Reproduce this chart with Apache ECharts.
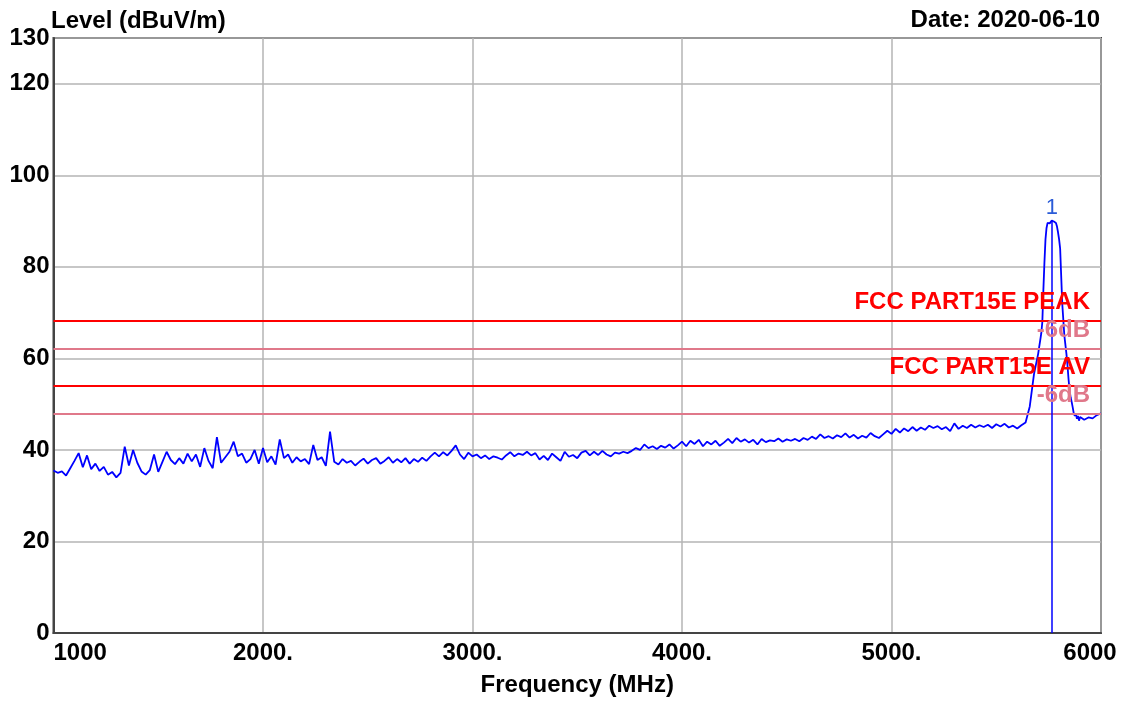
<!DOCTYPE html>
<html>
<head>
<meta charset="utf-8">
<script src="https://cdn.jsdelivr.net/npm/echarts@6/dist/echarts.min.js"></script>
<style>
  html, body { margin: 0; padding: 0; background: #fff; }
  #chart { width: 1129px; height: 702px; }
</style>
</head>
<body>
<div id="chart"></div>
<script>
// sweep 1000 - 5700 MHz, 20 MHz per point
const sweepStart = 1000
const sweepStep = 20
const sweepLevels = [
  35.5, 35.0, 35.3, 34.4, 36.0, 37.6, 39.3, 36.2, 38.8, 35.8,
  37.0, 35.4, 36.3, 34.6, 35.2, 34.0, 35.0, 40.7, 36.6, 40.0,
  37.2, 35.3, 34.6, 35.6, 39.0, 35.2, 37.4, 39.6, 37.8, 36.9,
  38.2, 37.0, 39.2, 37.5, 39.0, 36.3, 40.4, 37.6, 36.0, 42.8,
  37.2, 38.4, 39.6, 41.8, 38.6, 39.2, 37.2, 38.0, 40.0, 37.0,
  40.4, 37.3, 38.6, 36.8, 42.3, 38.2, 39.0, 37.2, 38.4, 37.5,
  38.0, 36.9, 41.1, 37.8, 38.4, 36.5, 44.0, 37.4, 36.8, 38.0,
  37.2, 37.6, 36.6, 37.4, 38.1, 37.0, 37.8, 38.2, 37.0, 37.6,
  38.4, 37.2, 38.0, 37.3, 38.2, 37.0, 38.0, 37.4, 38.3, 37.6,
  38.6, 39.4, 38.6, 39.5, 38.8, 39.8, 41.0, 39.0, 38.0, 39.4,
  38.6, 39.0, 38.2, 38.8, 38.0, 38.6, 38.3, 37.9, 38.8, 39.5,
  38.6, 39.2, 38.9, 39.6, 38.8, 39.3, 37.9, 38.7, 37.8, 39.2,
  38.4, 37.6, 39.6, 38.5, 38.9, 38.2, 39.4, 39.8, 38.8, 39.6,
  38.9, 39.8, 39.0, 38.6, 39.4, 39.2, 39.6, 39.3, 39.8, 40.4,
  40.0, 41.2, 40.4, 40.8, 40.2, 40.9, 40.5, 41.2, 40.3, 41.0,
  41.8, 40.8, 42.0, 41.3, 42.2, 40.8, 41.8, 41.2, 42.0, 40.9,
  41.6, 42.4, 41.5, 42.6, 41.8, 42.3, 41.6, 42.2, 41.2, 42.4,
  41.7, 42.1, 41.9, 42.5, 41.8, 42.3, 42.0, 42.4, 41.9, 42.6,
  42.2, 42.9, 42.4, 43.4, 42.6, 43.0, 42.5, 43.2, 42.8, 43.6,
  42.7, 43.3, 42.5, 43.1, 42.7, 43.7, 43.0, 42.6, 43.4, 44.2,
  43.5, 44.6, 43.8, 44.7, 44.1, 45.0, 44.2, 44.9, 44.4, 45.3,
  44.8, 45.2, 44.5, 45.0, 44.1, 45.8, 44.6, 45.3, 44.8, 45.5,
  44.9, 45.4, 45.0, 45.5, 44.8, 45.6, 45.1, 45.7, 44.9, 45.3,
  44.7, 45.4, 46.0, 49.5, 56.5, 61.0
]

// emission band, finer points
const bandFreqs = [
  5705, 5710, 5715, 5720, 5725, 5730, 5735, 5740, 5745, 5750,
  5755, 5760, 5765, 5770, 5775, 5780, 5785, 5790, 5795, 5800,
  5805, 5810, 5815, 5820, 5825, 5830, 5835, 5840, 5845, 5850,
  5855, 5860, 5865, 5870, 5875, 5880, 5885, 5890, 5895, 5900,
  5920, 5940, 5960, 5980, 6000
]
const bandLevels = [
  62.5, 64.0, 65.5, 68.0, 75.0, 81.0, 86.0, 88.5, 89.6, 89.7,
  89.5, 89.9, 90.1, 90.1, 89.9, 90.0, 89.6, 88.8, 87.5, 86.0,
  84.0, 78.0, 72.0, 68.5, 65.0, 63.0, 61.0, 58.5, 55.5, 53.0,
  51.5, 50.5, 49.3, 48.0, 47.4, 48.0, 46.8, 47.4, 46.4, 47.2,
  46.6, 47.1, 46.9, 47.6, 48.0
]

const markerFreq = 5765
const markerLevel = 90.1

const limitNames = ['FCC PART15E PEAK', '-6dB', 'FCC PART15E AV', '-6dB']
const limitLevels = [68.2, 62.2, 54, 48]
const limitColors = ['#ff0000', '#e0788a', '#ff0000', '#e0788a']

const xTicks = { 1000: '1000', 2000: '2000.', 3000: '3000.', 4000: '4000.', 5000: '5000.', 6000: '6000' }

let trace = []
sweepLevels.forEach((v, i) => {
  trace.push([sweepStart + i * sweepStep, v])
})
bandFreqs.forEach((f, i) => {
  trace.push([f, bandLevels[i]])
})

const FONT = 'Liberation Sans'

let chart = echarts.init(document.getElementById('chart'))
let option = {
  animation: false,
  textStyle: { fontFamily: FONT },
  title: [
    {
      text: 'Level (dBuV/m)',
      left: 51,
      top: 9,
      padding: 0,
      textStyle: { fontFamily: FONT, fontSize: 24, fontWeight: 'bold', color: '#000' }
    },
    {
      text: 'Date: 2020-06-10',
      right: 29,
      top: 8,
      padding: 0,
      textStyle: { fontFamily: FONT, fontSize: 24, fontWeight: 'bold', color: '#000' }
    }
  ],
  grid: {
    left: 53.5,
    right: 28,
    top: 38,
    bottom: 69,
    show: true,
    borderColor: '#444',
    borderWidth: 2
  },
  xAxis: {
    type: 'value',
    min: 1000,
    max: 6000,
    interval: 1000,
    name: 'Frequency (MHz)',
    nameLocation: 'middle',
    nameGap: 40,
    nameTextStyle: { fontFamily: FONT, fontSize: 24, fontWeight: 'bold', color: '#000' },
    axisLine: { lineStyle: { color: '#444', width: 2 } },
    axisTick: { show: false },
    splitLine: { show: true, lineStyle: { color: '#b4b4b4', width: 1.5 } },
    axisLabel: {
      margin: 8,
      fontFamily: FONT,
      fontSize: 24,
      fontWeight: 'bold',
      color: '#000',
      alignMinLabel: 'left',
      formatter: (v) => v === 6000 ? '{last|' + xTicks[v] + '}' : xTicks[v],
      rich: {
        last: { fontFamily: FONT, fontSize: 24, fontWeight: 'bold', color: '#000', padding: [0, 22, 0, 0] }
      }
    }
  },
  yAxis: {
    type: 'value',
    min: 0,
    max: 130,
    interval: 20,
    axisLine: { show: true, lineStyle: { color: '#444', width: 2 } },
    axisTick: { show: false },
    splitLine: { show: true, lineStyle: { color: '#b4b4b4', width: 1.5 } },
    axisLabel: {
      margin: 4,
      fontFamily: FONT,
      fontSize: 24,
      fontWeight: 'bold',
      color: '#000',
      showMaxLabel: true
    }
  },
  series: [
    {
      name: 'limits',
      type: 'line',
      data: [],
      z: 1,
      markLine: {
        silent: true,
        symbol: 'none',
        data: limitLevels.map((y, i) => ({
          yAxis: y,
          lineStyle: { color: limitColors[i], width: 2, type: 'solid' },
          label: {
            show: true,
            position: 'insideEndTop',
            distance: [11, 6],
            formatter: limitNames[i],
            fontFamily: FONT,
            fontSize: 24,
            fontWeight: 'bold',
            color: limitColors[i]
          }
        }))
      }
    },
    {
      name: 'level',
      type: 'line',
      data: trace,
      z: 3,
      showSymbol: false,
      symbol: 'none',
      lineStyle: { color: '#0000ff', width: 1.8 },
      markLine: {
        silent: true,
        symbol: 'none',
        lineStyle: { color: '#0000ff', width: 1.5, type: 'solid' },
        label: {
          show: true,
          position: 'end',
          distance: 2,
          formatter: '1',
          fontFamily: FONT,
          fontSize: 22,
          color: '#2a5bd7'
        },
        data: [
          [
            { coord: [markerFreq, 0] },
            { coord: [markerFreq, markerLevel] }
          ]
        ]
      }
    }
  ]
}
chart.setOption(option)
</script>
</body>
</html>
